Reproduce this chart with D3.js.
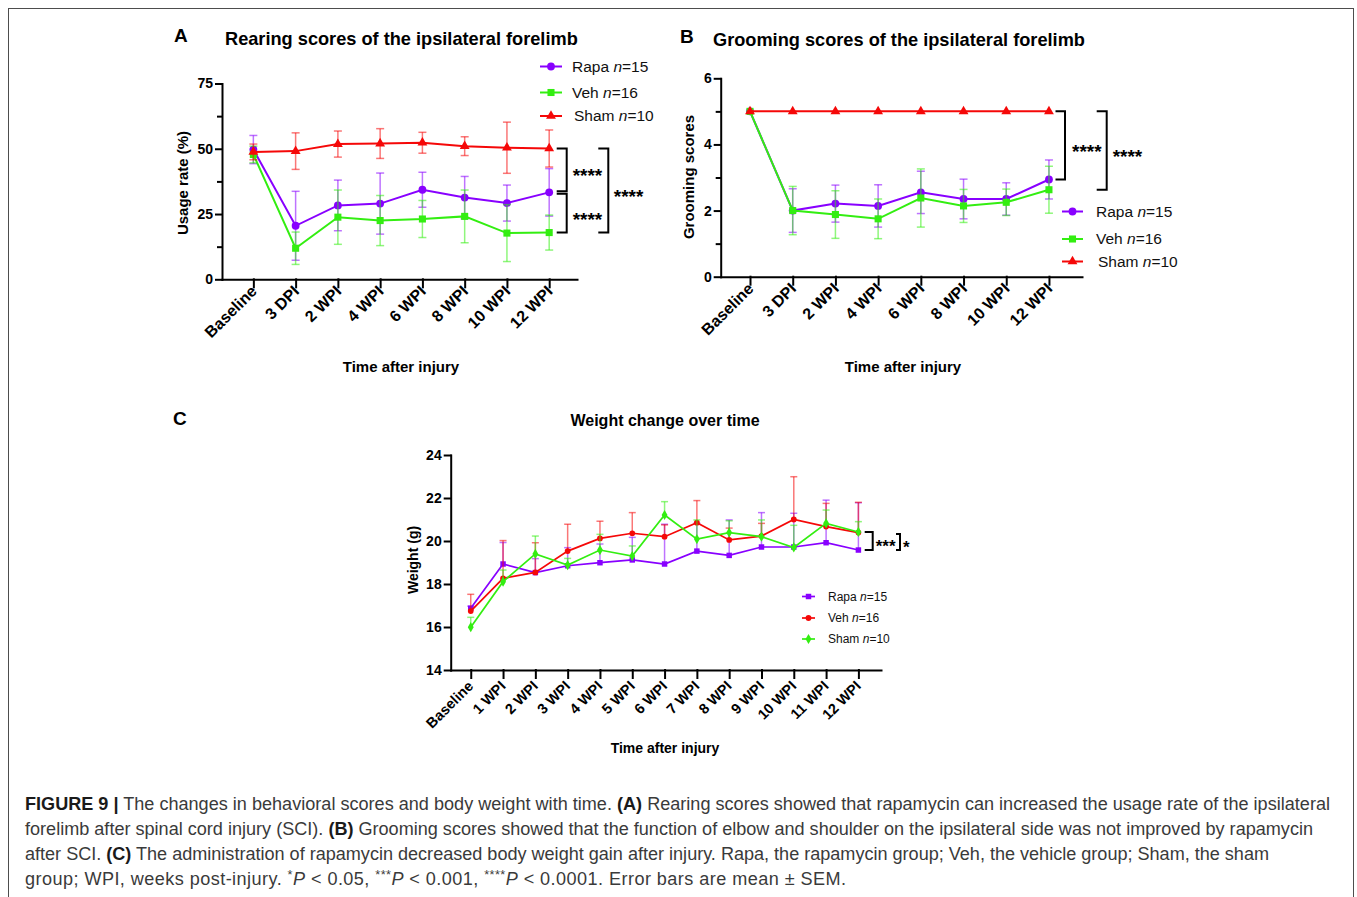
<!DOCTYPE html>
<html>
<head>
<meta charset="utf-8">
<script src="https://cdn.jsdelivr.net/npm/d3@7"></script>
<style>
  body { margin: 0; background: #fff; }
  svg { display: block; font-family: "Liberation Sans", Arial, Helvetica, sans-serif; }
  .axis path, .axis line { stroke: #000; stroke-width: 2; stroke-linecap: square; }
  .axis text { font-weight: bold; font-size: 14px; fill: #000; }
  .title { font-weight: bold; fill: #000; }
</style>
</head>
<body>
<svg id="fig" width="1357" height="897"></svg>
<script>
// ---- data ----
var catsRear = ['Baseline', '3 DPI', '2 WPI', '4 WPI', '6 WPI', '8 WPI', '10 WPI', '12 WPI'];
var catsWeight = ['Baseline', '1 WPI', '2 WPI', '3 WPI', '4 WPI', '5 WPI', '6 WPI',
  '7 WPI', '8 WPI', '9 WPI', '10 WPI', '11 WPI', '12 WPI'];

var groups = ['Rapa', 'Veh', 'Sham'];
var groupN = [15, 16, 10];

// A: rearing, usage rate (%)
var rearRapa = [49.7, 20.5, 28.3, 29.0, 34.3, 31.3, 29.2, 33.3];
var rearRapaErr = [5.4, 13.2, 9.7, 11.7, 6.7, 8.1, 6.9, 9.1];
var rearVeh = [47.8, 11.9, 23.8, 22.5, 23.1, 24.1, 17.7, 17.9];
var rearVehErr = [3.2, 6.2, 10.4, 9.6, 7.1, 10.1, 10.9, 6.7];
var rearSham = [48.8, 49.1, 51.8, 52.0, 52.3, 51.0, 50.4, 50.1];
var rearShamErr = [3.0, 7.0, 5.0, 5.7, 4.0, 3.6, 9.8, 7.1];
var rearTicks = [0, 25, 50, 75];
var rearMinor = [12.5, 37.5, 62.5];

// B: grooming scores
var groomRapa = [5, 2.0, 2.21, 2.14, 2.55, 2.35, 2.35, 2.94];
var groomRapaErr = [0, 0.66, 0.56, 0.64, 0.64, 0.6, 0.49, 0.59];
var groomVeh = [5, 2.0, 1.88, 1.75, 2.38, 2.14, 2.25, 2.63];
var groomVehErr = [0, 0.73, 0.72, 0.6, 0.88, 0.5, 0.4, 0.71];
var groomSham = [5, 5, 5, 5, 5, 5, 5, 5];
var groomShamErr = [0, 0, 0, 0, 0, 0, 0, 0];
var groomTicks = [0, 2, 4, 6];
var groomMinor = [1, 3, 5];

// C: weight (g), upper error only
var weightRapa = [16.87, 18.93, 18.53, 18.85, 18.99, 19.12, 18.93, 19.53, 19.33, 19.72, 19.72, 19.92, 19.58];
var weightRapaErr = [0.1, 1.0, 0.65, 0.84, 0.87, 1.05, 1.85, 1.3, 1.65, 1.6, 1.57, 1.98, 2.2];
var weightVeh = [16.74, 18.26, 18.54, 19.53, 20.12, 20.36, 20.2, 20.85, 20.05, 20.23, 21.0, 20.67, 20.39];
var weightVehErr = [0.78, 1.76, 1.38, 1.25, 0.8, 0.96, 0.55, 1.03, 0.55, 0.59, 1.99, 1.08, 1.41];
var weightSham = [15.99, 18.11, 19.4, 18.88, 19.58, 19.3, 21.21, 20.09, 20.39, 20.2, 19.7, 20.82, 20.42];
var weightShamErr = [0.46, 0.54, 0.83, 0.31, 0.73, 0.47, 0.62, 0.89, 0.55, 0.78, 1.03, 0.62, 0.48];
var weightTicks = [14, 16, 18, 20, 22, 24];

var PURPLE = '#8800ff', GREEN = '#33ee11', RED = '#f50808';

var svg = d3.select('#fig');

// figure frame
svg.append('rect')
  .attr('x', 8.5).attr('y', 8.5)
  .attr('width', 1345).attr('height', 920)
  .attr('fill', 'none').attr('stroke', '#4d4d4d').attr('stroke-width', 1);

function drawPanel(o) {
  var g = svg.append('g');
  var x = d3.scalePoint().domain(o.cats).range(o.xRange).padding(o.pad).align(o.align);
  var y = d3.scaleLinear().domain(o.yDomain).range(o.yRange);

  /* x axis, rotated labels */
  var gx = g.append('g').attr('class', 'axis')
    .attr('transform', 'translate(0,' + o.yRange[0] + ')')
    .call(d3.axisBottom(x).tickSize(8).tickSizeOuter(0));
  gx.selectAll('text')
    .attr('y', 0).attr('dy', 0)
    .style('font-size', o.xFont + 'px')
    .attr('text-anchor', 'end')
    .attr('transform', 'translate(' + o.labOff[0] + ',' + o.labOff[1] + ') rotate(-45)');

  /* y axis */
  var gy = g.append('g').attr('class', 'axis')
    .attr('transform', 'translate(' + o.xRange[0] + ',0)')
    .call(d3.axisLeft(y).tickValues(o.yTicks).tickFormat(d3.format('~g'))
      .tickSize(6).tickSizeOuter(0).tickPadding(3));
  gy.selectAll('text').style('font-size', o.yFont + 'px');
  if (o.yMinor) {
    g.append('g').attr('class', 'axis')
      .attr('transform', 'translate(' + o.xRange[0] + ',0)')
      .call(d3.axisLeft(y).tickValues(o.yMinor).tickSize(4).tickFormat(''))
      .select('.domain').remove();
  }

  /* series: error bars, line, symbols */
  o.series.forEach(function(s) {
    var pts = o.cats.map(function(c, i) { return {c: c, v: s.vals[i], e: s.err[i]}; });
    var sg = g.append('g');

    var eb = sg.selectAll('g.eb')
      .data(pts.filter(function(d) { return d.e > 0; }))
      .enter().append('g')
      .attr('stroke', s.color).attr('stroke-opacity', 0.55).attr('stroke-width', 1.5);
    eb.append('line')
      .attr('x1', function(d) { return x(d.c); })
      .attr('x2', function(d) { return x(d.c); })
      .attr('y1', function(d) { return y(d.v + d.e); })
      .attr('y2', function(d) { return o.upOnly ? y(d.v) : y(d.v - d.e); });
    eb.append('line')
      .attr('x1', function(d) { return x(d.c) - o.cap; })
      .attr('x2', function(d) { return x(d.c) + o.cap; })
      .attr('y1', function(d) { return y(d.v + d.e); })
      .attr('y2', function(d) { return y(d.v + d.e); });
    if (!o.upOnly) {
      eb.append('line')
        .attr('x1', function(d) { return x(d.c) - o.cap; })
        .attr('x2', function(d) { return x(d.c) + o.cap; })
        .attr('y1', function(d) { return y(d.v - d.e); })
        .attr('y2', function(d) { return y(d.v - d.e); });
    }

    sg.append('path').datum(pts)
      .attr('fill', 'none').attr('stroke', s.color).attr('stroke-width', o.lineW)
      .attr('d', d3.line().x(function(d) { return x(d.c); }).y(function(d) { return y(d.v); }));

    sg.selectAll('path.sym').data(pts).enter().append('path')
      .attr('class', 'sym')
      .attr('fill', s.color)
      .attr('transform', function(d) { return 'translate(' + x(d.c) + ',' + y(d.v) + ')'; })
      .attr('d', d3.symbol().type(s.sym).size(s.size));
  });

  /* titles */
  svg.append('text').attr('class', 'title')
    .attr('x', o.letter[0]).attr('y', o.letter[1])
    .style('font-size', '19px').text(o.letter[2]);
  svg.append('text').attr('class', 'title')
    .attr('x', o.title[0]).attr('y', o.title[1])
    .attr('text-anchor', o.title[3] || 'start')
    .style('font-size', o.title[4] + 'px').text(o.title[2]);
  svg.append('text').attr('class', 'title')
    .attr('x', o.xTitle[0]).attr('y', o.xTitle[1])
    .attr('text-anchor', 'middle')
    .style('font-size', o.xTitle[2] + 'px').text('Time after injury');
  svg.append('text').attr('class', 'title')
    .attr('transform', 'translate(' + o.yTitle[0] + ',' + o.yTitle[1] + ') rotate(-90)')
    .attr('text-anchor', 'middle').attr('dominant-baseline', 'central')
    .style('font-size', o.yTitle[3] + 'px').text(o.yTitle[2]);

  /* legend */
  var lg = svg.append('g');
  o.series.forEach(function(s, i) {
    var ly = o.legend.ys[i];
    lg.append('line')
      .attr('x1', o.legend.x0).attr('x2', o.legend.x1)
      .attr('y1', ly).attr('y2', ly)
      .attr('stroke', s.color).attr('stroke-width', o.lineW);
    lg.append('path')
      .attr('fill', s.color)
      .attr('transform', 'translate(' + ((o.legend.x0 + o.legend.x1) / 2) + ',' + ly + ')')
      .attr('d', d3.symbol().type(s.sym).size(s.size));
    var t = lg.append('text')
      .attr('x', o.legend.tx + (i === 2 ? o.legend.shamShift : 0))
      .attr('y', ly).attr('dy', '0.35em')
      .style('font-size', o.legend.font + 'px').attr('fill', '#111');
    t.append('tspan').text(groups[i] + ' ');
    t.append('tspan').style('font-style', 'italic').text('n');
    t.append('tspan').text('=' + groupN[i]);
  });

  /* significance brackets */
  o.brackets.forEach(function(b) {
    var y1 = y(b.from) + (b.d1 || 0), y2 = y(b.to) + (b.d2 || 0);
    g.append('path')
      .attr('d', 'M' + (b.x - b.w) + ',' + y1 + 'H' + b.x + 'V' + y2 + 'H' + (b.x - b.w))
      .attr('fill', 'none').attr('stroke', '#000').attr('stroke-width', 2);
    g.append('text')
      .attr('x', b.x + b.gap)
      .attr('y', (y1 + y2) / 2 + 1.5 + 0.575 * b.font)
      .style('font-weight', 'bold').style('font-size', b.font + 'px')
      .text(b.stars);
  });

  return {x: x, y: y};
}

// Panel A
drawPanel({
  cats: catsRear, xRange: [222, 577], pad: 0.7, align: 0.53,
  yDomain: [0, 75], yRange: [279.3, 83.5], yTicks: rearTicks, yMinor: rearMinor,
  xFont: 16, yFont: 14, labOff: [4, 13], cap: 4, lineW: 2, upOnly: false,
  series: [
    {vals: rearRapa, err: rearRapaErr, color: PURPLE, sym: d3.symbolCircle, size: 48},
    {vals: rearVeh, err: rearVehErr, color: GREEN, sym: d3.symbolSquare, size: 50},
    {vals: rearSham, err: rearShamErr, color: RED, sym: d3.symbolTriangle, size: 42}
  ],
  letter: [174, 42, 'A'],
  title: [225, 45, 'Rearing scores of the ipsilateral forelimb', 'start', 18.2],
  xTitle: [401, 372, 15],
  yTitle: [182, 183, 'Usage rate (%)', 15],
  legend: {x0: 540, x1: 562, tx: 572, ys: [66.5, 92.5, 116], font: 15.5, shamShift: 2},
  brackets: [
    {from: rearSham[7], to: rearRapa[7], d2: -1, x: 566.7, w: 10, gap: 6, stars: '****', font: 19},
    {from: rearRapa[7], to: rearVeh[7], d1: 1.5, x: 566.7, w: 10, gap: 6, stars: '****', font: 19},
    {from: rearSham[7], to: rearVeh[7], x: 608.3, w: 10, gap: 5.5, stars: '****', font: 19}
  ]
});

// Panel B
drawPanel({
  cats: catsRear, xRange: [720.7, 1082], pad: 0.73, align: 0.47,
  yDomain: [0, 6], yRange: [276.7, 78.3], yTicks: groomTicks, yMinor: groomMinor,
  xFont: 16, yFont: 14, labOff: [4, 13], cap: 4, lineW: 2, upOnly: false,
  series: [
    {vals: groomRapa, err: groomRapaErr, color: PURPLE, sym: d3.symbolCircle, size: 48},
    {vals: groomVeh, err: groomVehErr, color: GREEN, sym: d3.symbolSquare, size: 50},
    {vals: groomSham, err: groomShamErr, color: RED, sym: d3.symbolTriangle, size: 42}
  ],
  letter: [680, 42.7, 'B'],
  title: [713, 46, 'Grooming scores of the ipsilateral forelimb', 'start', 18.2],
  xTitle: [903, 372, 15],
  yTitle: [688, 177, 'Grooming scores', 15],
  legend: {x0: 1062, x1: 1083, tx: 1096, ys: [211.5, 239, 261.5], font: 15.5, shamShift: 2},
  brackets: [
    {from: groomSham[7], to: groomRapa[7], x: 1065, w: 9.5, gap: 7, stars: '****', font: 19},
    {from: groomSham[7], to: groomVeh[7], x: 1106.7, w: 10, gap: 6, stars: '****', font: 19}
  ]
});

// Panel C
drawPanel({
  cats: catsWeight, xRange: [450.7, 881], pad: 0.66, align: 0.47,
  yDomain: [14, 24], yRange: [670, 455], yTicks: weightTicks, yMinor: null,
  xFont: 14.5, yFont: 14, labOff: [3, 17], cap: 3.5, lineW: 1.7, upOnly: true,
  series: [
    {vals: weightRapa, err: weightRapaErr, color: PURPLE, sym: d3.symbolSquare, size: 30},
    {vals: weightVeh, err: weightVehErr, color: RED, sym: d3.symbolCircle, size: 26},
    {vals: weightSham, err: weightShamErr, color: GREEN, sym: d3.symbolDiamond, size: 30}
  ],
  letter: [173, 425, 'C'],
  title: [665, 426, 'Weight change over time', 'middle', 16],
  xTitle: [665, 753, 14],
  yTitle: [413, 560, 'Weight (g)', 14],
  legend: {x0: 802, x1: 815, tx: 828, ys: [596.5, 618, 639], font: 12, shamShift: 0},
  brackets: [
    {from: weightSham[12], to: weightRapa[12], x: 872.7, w: 8, gap: 3, stars: '***', font: 17},
    {from: weightSham[12], to: weightRapa[12], d1: 2, x: 900, w: 4, gap: 3, stars: '*', font: 17}
  ]
});

// ---- caption ----
var captionLines = [
  [['FIGURE 9 |', 'b'], [' The changes in behavioral scores and body weight with time. '], ['(A)', 'b'],
   [' Rearing scores showed that rapamycin can increased the usage rate of the ipsilateral']],
  [['forelimb after spinal cord injury (SCI). '], ['(B)', 'b'],
   [' Grooming scores showed that the function of elbow and shoulder on the ipsilateral side was not improved by rapamycin']],
  [['after SCI. '], ['(C)', 'b'],
   [' The administration of rapamycin decreased body weight gain after injury. Rapa, the rapamycin group; Veh, the vehicle group; Sham, the sham']],
  [['group; WPI, weeks post-injury. '], ['*', 's'], ['P', 'i'], [' < 0.05, '], ['***', 's'], ['P', 'i'],
   [' < 0.001, '], ['****', 's'], ['P', 'i'], [' < 0.0001. Error bars are mean \u00b1 SEM.']]
];
// right end of each caption line in the figure
var captionEnds = [1330, 1313, 1269, 846];

var capG = svg.append('g');
var capTexts = captionLines.map(function(line, li) {
  var t = capG.append('text')
    .attr('x', 25).attr('y', 810 + li * 25)
    .attr('fill', '#3a3a3a');
  line.forEach(function(seg) {
    var ts = t.append('tspan').text(seg[0]);
    if (seg[1] === 'b') ts.style('font-weight', 'bold').attr('fill', '#1a1a1a');
    if (seg[1] === 'i') ts.style('font-style', 'italic');
    if (seg[1] === 's') ts.attr('class', 'sup').attr('dy', -6).style('font-size', '0.7em');
  });
  // restore baseline after superscripts
  t.selectAll('tspan').each(function(d, i, nodes) {
    if (i > 0 && d3.select(nodes[i - 1]).classed('sup')) d3.select(this).attr('dy', 6);
  });
  return t;
});

// fit the caption size so the first line spans the text block width
var capSize = 16;
capTexts.forEach(function(t) { t.style('font-size', capSize + 'px'); });
var w0 = capTexts[0].node().getComputedTextLength();
capSize = capSize * 1305 / w0;
capTexts.forEach(function(t, i) {
  t.style('font-size', capSize + 'px')
    .attr('textLength', captionEnds[i] - 25).attr('lengthAdjust', 'spacing');
});
</script>
</body>
</html>
